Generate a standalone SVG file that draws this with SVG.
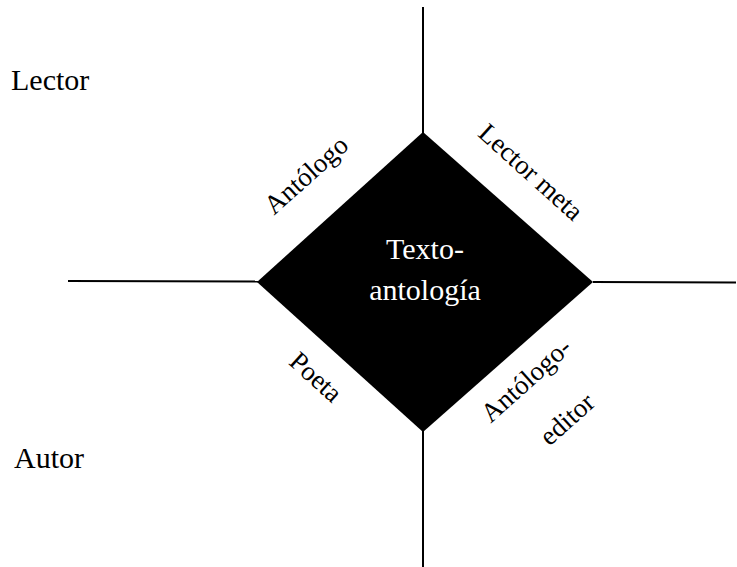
<svg xmlns="http://www.w3.org/2000/svg" width="737" height="567" viewBox="0 0 737 567">
<style>
.ln{stroke:#000;stroke-width:2;fill:none}
.t{font-family:"Liberation Serif","Times New Roman",serif;fill:#000}
.big{font-size:30px}
.rot{font-size:27px;text-anchor:middle;dominant-baseline:central}
.ctr{font-size:30px;fill:#fff;text-anchor:middle}
</style>
<rect width="737" height="567" fill="#fff"/>
<g id="connectors">
<line class="ln" x1="423" y1="7" x2="423" y2="567"/>
<line class="ln" x1="68" y1="281" x2="258" y2="281.5"/>
<line class="ln" x1="593" y1="282" x2="736" y2="282.5"/>
</g>
<g id="texto-antologia">
<polygon points="423,132 593,282 423,432 257,282" fill="#000"/>
<text class="t ctr" x="425" y="259">Texto-</text>
<text class="t ctr" x="425" y="300">antología</text>
</g>
<g id="lector"><text class="t big" x="11" y="90">Lector</text></g>
<g id="autor"><text class="t big" x="14" y="468">Autor</text></g>
<g id="antologo"><text class="t rot" transform="translate(306,175) rotate(-42)">Antólogo</text></g>
<g id="lector-meta"><text class="t rot" transform="translate(531,172) rotate(42)">Lector meta</text></g>
<g id="poeta"><text class="t rot" transform="translate(316,377) rotate(42)">Poeta</text></g>
<g id="antologo-editor">
<text class="t rot" transform="translate(526,380) rotate(-42)">Antólogo-</text>
<text class="t rot" transform="translate(567,419) rotate(-42)">editor</text>
</g>
</svg>
